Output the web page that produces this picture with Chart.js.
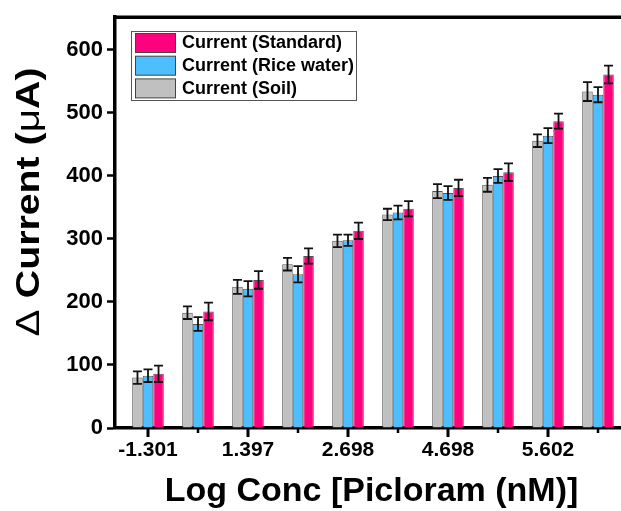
<!DOCTYPE html>
<html>
<head>
<meta charset="utf-8">
<script src="https://cdn.jsdelivr.net/npm/chart.js@4.4.1/dist/chart.umd.min.js"></script>
<style>
    html, body { margin: 0; padding: 0; background: #fff; overflow: hidden; }
    #wrap { width: 632px; height: 511px; }
</style>
</head>
<body>
<div id="wrap"><canvas id="currentChart"></canvas></div>
<script>
// Log concentration labels (only every other group is labelled on the axis)
var tickLabels = ['-1.301', '', '1.397', '', '2.698', '', '4.698', '', '5.602', ''];
var yTicks = [0, 100, 200, 300, 400, 500, 600];

// Current response (uA) and standard deviation for each matrix
var soil = [80, 183, 224, 260, 297, 339, 376, 386, 456, 534];
var soilErr = [10, 10, 11, 10, 10, 9, 11, 11, 10, 15];
var riceWater = [83, 165, 221, 244, 298, 342, 373, 400, 464, 529];
var riceWaterErr = [10, 11, 12, 13, 9, 11, 11, 11, 12, 12];
var standard = [86, 185, 235, 273, 313, 348, 381, 406, 487, 561];
var standardErr = [13, 14, 14, 12, 13, 12, 13, 14, 12, 14];

var FONT = "'Liberation Sans', Arial, sans-serif";

function toPoints(values) {
    return values.map(function (v, i) { return { x: i, y: v }; });
}

// Error bars drawn on top of each bar
var errorBars = {
    id: 'errorBars',
    afterDatasetsDraw: function (chart) {
        var ctx = chart.ctx;
        var y = chart.scales.y;
        ctx.save();
        ctx.strokeStyle = '#111';
        ctx.lineWidth = 1.8;
        chart.data.datasets.forEach(function (ds, di) {
            var meta = chart.getDatasetMeta(di);
            meta.data.forEach(function (bar, i) {
                var v = ds.data[i].y, e = ds.errors[i];
                var top = y.getPixelForValue(v + e);
                var bot = y.getPixelForValue(v - e);
                ctx.beginPath();
                ctx.moveTo(bar.x, top); ctx.lineTo(bar.x, bot);
                ctx.moveTo(bar.x - 4.5, top); ctx.lineTo(bar.x + 4.5, top);
                ctx.moveTo(bar.x - 4.5, bot); ctx.lineTo(bar.x + 4.5, bot);
                ctx.stroke();
            });
        });
        ctx.restore();
    }
};

// y title: symbol glyphs in regular weight, the rest bold
function drawYTitle(ctx, cx, cy, span) {
    var parts = [
        { t: '\u0394 ', f: '34px ' + FONT },
        { t: 'Current (', f: 'bold 33px ' + FONT },
        { t: '\u03bc', f: '34px ' + FONT },
        { t: 'A)', f: 'bold 33px ' + FONT }
    ];
    var total = 0;
    parts.forEach(function (p) { ctx.font = p.f; p.w = ctx.measureText(p.t).width; total += p.w; });
    ctx.save();
    ctx.translate(cx, cy);
    ctx.rotate(-Math.PI / 2);
    ctx.scale(span / total, 1);
    ctx.fillStyle = '#000';
    ctx.textAlign = 'left';
    ctx.textBaseline = 'middle';
    var pos = -total / 2;
    parts.forEach(function (p) { ctx.font = p.f; ctx.fillText(p.t, pos, 0); pos += p.w; });
    ctx.restore();
}

// Frame, x tick marks, y title and boxed legend
var decorations = {
    id: 'decorations',
    afterDraw: function (chart) {
        var ctx = chart.ctx;
        var area = chart.chartArea;
        var x = chart.scales.x;
        ctx.save();

        ctx.strokeStyle = '#000';
        ctx.lineWidth = 3.5;
        ctx.beginPath();
        ctx.moveTo(area.left - 1.75, area.top);
        ctx.lineTo(chart.width, area.top);
        ctx.stroke();

        for (var i = 0; i < tickLabels.length; i++) {
            var px = x.getPixelForValue(i);
            var major = i % 2 === 0;
            ctx.lineWidth = major ? 3 : 2.5;
            ctx.beginPath();
            ctx.moveTo(px, area.bottom);
            ctx.lineTo(px, area.bottom + (major ? 9 : 5));
            ctx.stroke();
        }

        drawYTitle(ctx, 30, 202, 269);

        // legend, listed in reverse dataset order
        var lx = 131.5, ly = 31.5, lw = 225, lh = 69;
        ctx.fillStyle = '#fff';
        ctx.fillRect(lx, ly, lw, lh);
        ctx.strokeStyle = '#555';
        ctx.lineWidth = 1;
        ctx.strokeRect(lx, ly, lw, lh);
        var items = chart.data.datasets.slice().reverse();
        ctx.font = 'bold 18px ' + FONT;
        ctx.textAlign = 'left';
        ctx.textBaseline = 'middle';
        items.forEach(function (ds, k) {
            var sy = 33.5 + k * 22.7;
            ctx.fillStyle = ds.backgroundColor;
            ctx.fillRect(135.5, sy, 40, 19);
            ctx.strokeStyle = '#444';
            ctx.strokeRect(135.5, sy, 40, 19);
            ctx.fillStyle = '#000';
            ctx.fillText(ds.label, 182, sy + 10);
        });
        ctx.restore();
    }
};

var ctx = document.getElementById('currentChart').getContext('2d');
var currentChart = new Chart(ctx, {
    type: 'bar',
    data: {
        datasets: [{
            label: 'Current (Soil)',
            data: toPoints(soil),
            errors: soilErr,
            backgroundColor: '#C0C0C0',
            borderColor: '#555',
            borderWidth: 1
        }, {
            label: 'Current (Rice water)',
            data: toPoints(riceWater),
            errors: riceWaterErr,
            backgroundColor: '#4DBEFF',
            borderColor: '#555',
            borderWidth: 1
        }, {
            label: 'Current (Standard)',
            data: toPoints(standard),
            errors: standardErr,
            backgroundColor: '#FF007F',
            borderColor: '#555',
            borderWidth: 1
        }]
    },
    options: {
        responsive: true,
        maintainAspectRatio: false,
        animation: false,
        layout: { padding: { top: 15, right: 4, left: 0, bottom: 0 } },
        datasets: { bar: { barPercentage: 1, categoryPercentage: 0.632 } },
        plugins: {
            legend: { display: false },
            tooltip: { enabled: false }
        },
        scales: {
            x: {
                type: 'linear',
                offset: false,
                min: -0.66,
                max: 9.6,
                afterBuildTicks: function (scale) {
                    scale.ticks = tickLabels.map(function (t, i) { return { value: i }; });
                },
                afterFit: function (scale) { scale.height = 83; },
                grid: { drawOnChartArea: false, tickLength: 8, tickColor: 'rgba(0,0,0,0)' },
                border: { color: '#000', width: 3.5 },
                ticks: {
                    autoSkip: false,
                    maxRotation: 0,
                    padding: 2,
                    color: '#000',
                    font: { family: FONT, size: 21, weight: 'bold' },
                    callback: function (value) { return tickLabels[value]; }
                },
                title: {
                    display: true,
                    text: 'Log Conc [Picloram (nM)]',
                    color: '#000',
                    font: { family: FONT, size: 34, weight: 'bold', lineHeight: 1 },
                    padding: { top: 0, bottom: 2 }
                }
            },
            y: {
                min: 0,
                max: 652,
                afterBuildTicks: function (scale) {
                    scale.ticks = yTicks.map(function (v) { return { value: v }; });
                },
                afterFit: function (scale) { scale.width = 115; },
                grid: { drawOnChartArea: false, tickLength: 8, tickWidth: 2.5, tickColor: '#000' },
                border: { color: '#000', width: 3.5 },
                ticks: {
                    padding: 4,
                    color: '#000',
                    font: { family: FONT, size: 22, weight: 'bold' }
                }
            }
        }
    },
    plugins: [errorBars, decorations]
});
</script>
</body>
</html>
